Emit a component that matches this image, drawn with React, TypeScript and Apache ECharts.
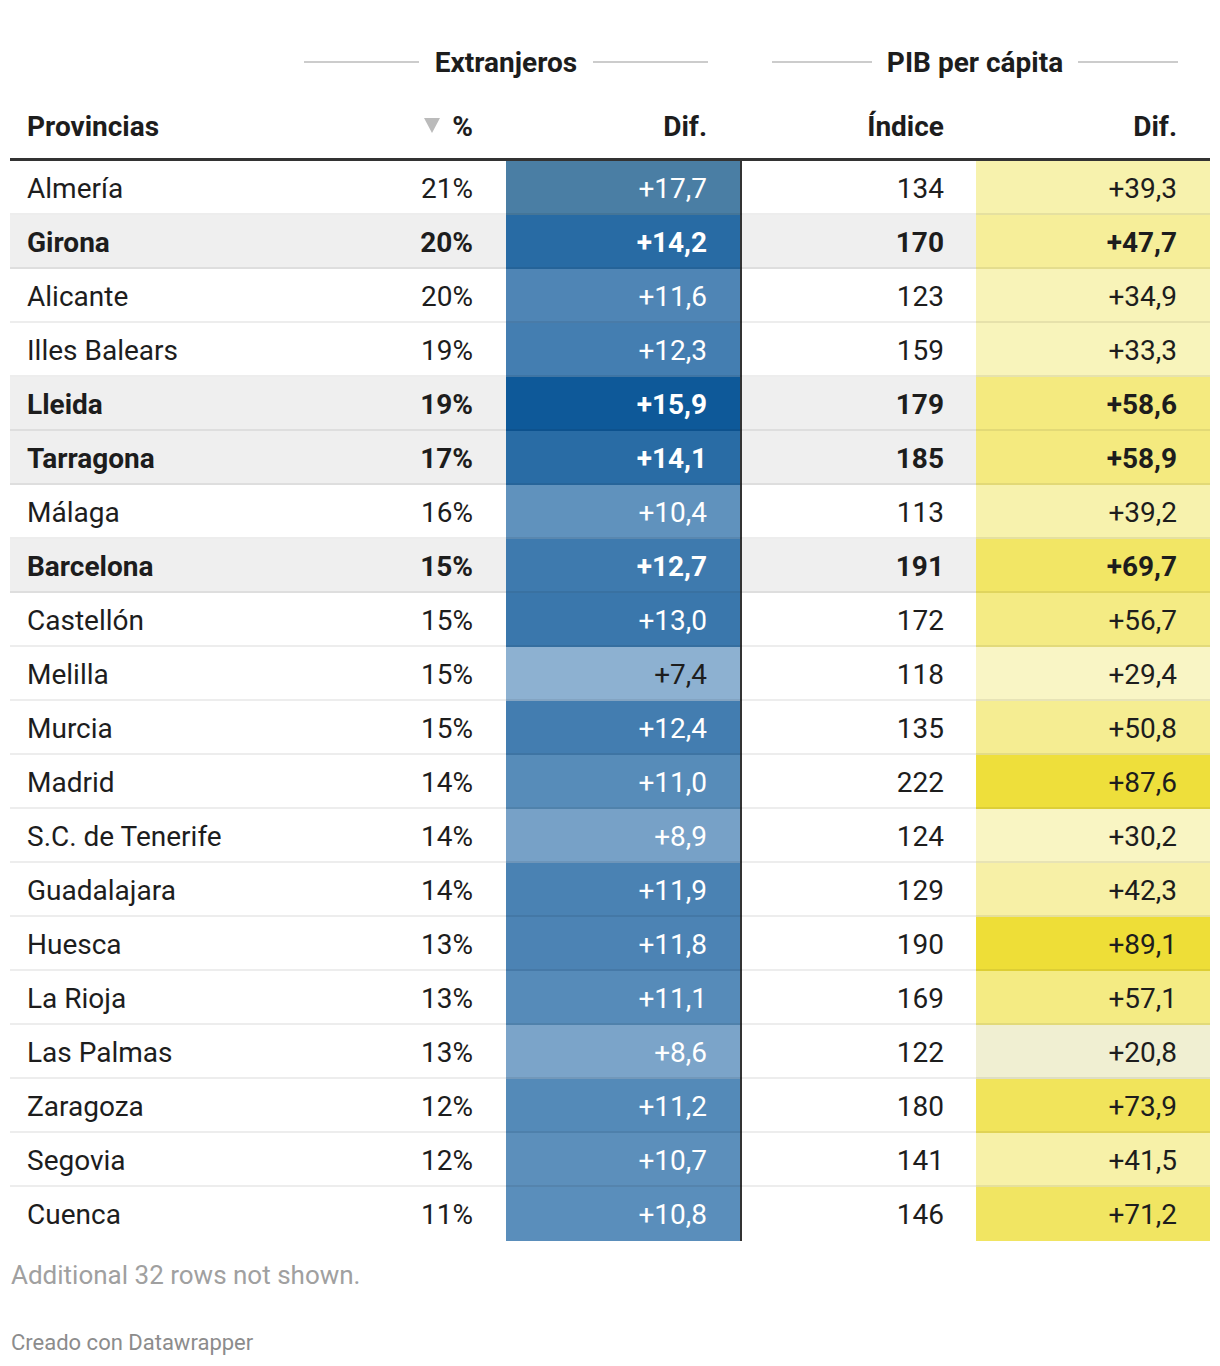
import React, { useEffect, useRef } from "react";
import * as echarts from "echarts";

const provinces = ["Almería", "Girona", "Alicante", "Illes Balears", "Lleida", "Tarragona", "Málaga", "Barcelona", "Castellón", "Melilla", "Murcia", "Madrid", "S.C. de Tenerife", "Guadalajara", "Huesca", "La Rioja", "Las Palmas", "Zaragoza", "Segovia", "Cuenca"];
const foreignPct = [21, 20, 20, 19, 19, 17, 16, 15, 15, 15, 15, 14, 14, 14, 13, 13, 13, 12, 12, 11];
const foreignDif = [17.7, 14.2, 11.6, 12.3, 15.9, 14.1, 10.4, 12.7, 13.0, 7.4, 12.4, 11.0, 8.9, 11.9, 11.8, 11.1, 8.6, 11.2, 10.7, 10.8];
const gdpIndex = [134, 170, 123, 159, 179, 185, 113, 191, 172, 118, 135, 222, 124, 129, 190, 169, 122, 180, 141, 146];
const gdpDif = [39.3, 47.7, 34.9, 33.3, 58.6, 58.9, 39.2, 69.7, 56.7, 29.4, 50.8, 87.6, 30.2, 42.3, 89.1, 57.1, 20.8, 73.9, 41.5, 71.2];
const highlighted = ["Girona", "Lleida", "Tarragona", "Barcelona"];
const columnHeaders = ["Provincias", "%", "Dif.", "Índice", "Dif."];
const groupHeaders = ["Extranjeros", "PIB per cápita"];
const notes = ["Additional 32 rows not shown.", "Creado con Datawrapper"];

// layout (x in grid pixels, grid starts at page x = 10)
const NAME_X = 17;
const PCT_RIGHT = 463;
const BLUE_X0 = 496;
const BLUE_X1 = 730;
const BLUE_TEXT = 697;
const IDX_RIGHT = 934;
const YEL_X0 = 966;
const YEL_X1 = 1200;
const YEL_TEXT = 1167;
const FONT = "Roboto, 'Noto Sans', sans-serif";
const TEXT = "#1d1d1d";
const FS = 28;

const fmtDif = (v: number) => "+" + v.toFixed(1).replace(".", ",");

function luminance(c: string) {
  const p = (echarts as any).color.parse(c) || [0, 0, 0, 1];
  const lin = (v: number) => {
    const s = v / 255;
    return s <= 0.03928 ? s / 12.92 : Math.pow((s + 0.055) / 1.055, 2.4);
  };
  return 0.2126 * lin(p[0]) + 0.7152 * lin(p[1]) + 0.0722 * lin(p[2]);
}

const isBold = (row: number) => highlighted.includes(provinces[row]);

export default function App() {
  const ref = useRef<HTMLDivElement>(null);
  useEffect(() => {
    if (!ref.current) return;
    const chart = echarts.init(ref.current, undefined, { renderer: "svg" });

    const rowData = provinces.map((_, i) => [0, i]);
    const blueData = foreignDif.map((v, i) => [0, i, v]);
    const yelData = gdpDif.map((v, i) => [0, i, v]);

    const txt = (x: number, y: number, text: string, bold: boolean, align: string, fill = TEXT) => ({
      type: "text",
      x,
      y,
      style: {
        text,
        align,
        verticalAlign: "middle",
        fill,
        fontSize: FS,
        fontWeight: bold ? "bold" : "normal",
        fontFamily: FONT,
      },
    });

    const rowRender = (params: any, api: any) => {
      const row = api.value(1);
      const left = api.coord([0, row]);
      const right = api.coord([1200, row]);
      const h = api.size([0, 1])[1];
      const bold = isBold(row);
      const children: any[] = [];
      if (bold) {
        children.push({
          type: "rect",
          shape: { x: left[0], y: left[1] - h / 2, width: right[0] - left[0], height: h },
          style: { fill: "#efefef" },
        });
      }
      children.push(txt(api.coord([NAME_X, row])[0], left[1], provinces[row], bold, "left"));
      children.push(txt(api.coord([PCT_RIGHT, row])[0], left[1], foreignPct[row] + "%", bold, "right"));
      children.push(txt(api.coord([IDX_RIGHT, row])[0], left[1], String(gdpIndex[row]), bold, "right"));
      return { type: "group", children };
    };

    const cellRender = (x0: number, x1: number, xt: number, thr: number) => (params: any, api: any) => {
      const row = api.value(1);
      const v = api.value(2);
      const a = api.coord([x0, row]);
      const b = api.coord([x1, row]);
      const h = api.size([0, 1])[1];
      const color = api.visual("color");
      const bold = isBold(row);
      const fill = luminance(color) > thr ? TEXT : "#ffffff";
      return {
        type: "group",
        children: [
          {
            type: "rect",
            shape: { x: a[0], y: a[1] - h / 2, width: b[0] - a[0], height: h },
            style: { fill: color },
          },
          txt(api.coord([xt, row])[0], a[1], fmtDif(v), bold, "right", fill),
        ],
      };
    };

    const ruleRender = (params: any, api: any) => {
      const row = api.value(1);
      const left = api.coord([0, row]);
      const right = api.coord([1200, row]);
      const bx = api.coord([BLUE_X1, row])[0];
      const h = api.size([0, 1])[1];
      const top = left[1] - h / 2;
      const children: any[] = [
        {
          type: "rect",
          shape: { x: bx, y: top, width: 2, height: h },
          style: { fill: "#333333" },
        },
      ];
      if (row < provinces.length - 1) {
        children.push({
          type: "rect",
          shape: { x: left[0], y: top + h - 2, width: right[0] - left[0], height: 2 },
          style: { fill: "rgba(0,0,0,0.07)" },
        });
      }
      return { type: "group", children };
    };

    const headerText = (x: number, y: number, text: string, align: string, size = 28, color = TEXT, weight = "bold") => ({
      type: "text",
      x,
      y,
      style: { text, align, verticalAlign: "middle", fill: color, fontSize: size, fontWeight: weight, fontFamily: FONT },
    });
    const hline = (x1: number, x2: number, y: number) => ({
      type: "line",
      shape: { x1, y1: y, x2, y2: y },
      style: { stroke: "#cccccc", lineWidth: 2 },
    });

    chart.setOption({
      animation: false,
      grid: { left: 10, top: 161, width: 1200, height: 1080 },
      xAxis: { type: "value", min: 0, max: 1200, show: false },
      yAxis: { type: "category", data: provinces, inverse: true, show: false },
      visualMap: [
        {
          type: "continuous",
          show: false,
          seriesIndex: 1,
          dimension: 2,
          min: 7,
          max: 16,
          range: [7, 16],
          unboundedRange: false,
          inRange: { color: ["#93b5d4", "#0d5898"] },
          outOfRange: { color: "#4a7ea4" },
        },
        {
          type: "continuous",
          show: false,
          seriesIndex: 2,
          dimension: 2,
          min: 25,
          max: 90,
          range: [25, 90],
          unboundedRange: false,
          inRange: { color: ["#faf7cf", "#eede35"] },
          outOfRange: { color: "#f0efd2" },
        },
      ],
      series: [
        { type: "custom", z: 1, data: rowData, renderItem: rowRender, silent: true },
        { type: "custom", z: 2, data: blueData, renderItem: cellRender(BLUE_X0, BLUE_X1, BLUE_TEXT, 0.37), silent: true },
        { type: "custom", z: 2, data: yelData, renderItem: cellRender(YEL_X0, YEL_X1, YEL_TEXT, -1), silent: true },
        { type: "custom", z: 3, data: rowData, renderItem: ruleRender, silent: true },
      ],
      graphic: [
        hline(304, 419, 62),
        hline(593, 708, 62),
        headerText(506, 62, groupHeaders[0], "center"),
        hline(772, 872, 62),
        hline(1078, 1178, 62),
        headerText(975, 62, groupHeaders[1], "center"),
        headerText(27, 126, columnHeaders[0], "left"),
        {
          type: "polygon",
          shape: { points: [[424, 118], [440, 118], [432, 133]] },
          style: { fill: "#bbbbbb" },
        },
        headerText(473, 126, columnHeaders[1], "right"),
        headerText(707, 126, columnHeaders[2], "right"),
        headerText(944, 126, columnHeaders[3], "right"),
        headerText(1177, 126, columnHeaders[4], "right"),
        { type: "rect", shape: { x: 10, y: 158, width: 1200, height: 3 }, style: { fill: "#333333" } },
        headerText(11, 1275, notes[0], "left", 26, "#a0a0a0", "normal"),
        headerText(11, 1342, notes[1], "left", 22, "#8c8c8c", "normal"),
      ],
    });
    return () => chart.dispose();
  }, []);
  return (
    <div
      ref={ref}
      style={{ position: "absolute", left: 0, top: 0, width: 1220, height: 1366, background: "#ffffff" }}
    />
  );
}
